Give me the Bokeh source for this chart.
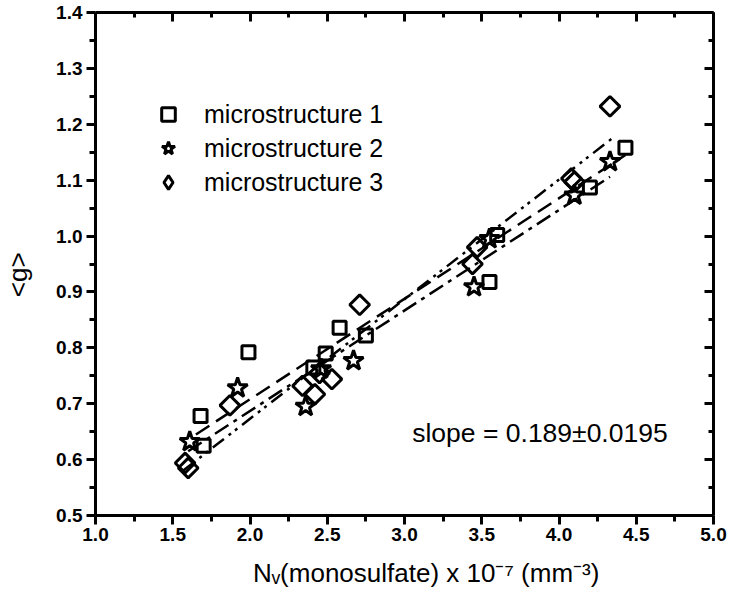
import numpy as np
from bokeh.plotting import figure
from bokeh.models import (FixedTicker, NumeralTickFormatter, LinearAxis, Legend,
                          LegendItem, Label, Range1d)
from bokeh.embed import file_html
from bokeh.resources import INLINE

# ---- data ----
ms1_x = [1.68, 1.70, 1.99, 2.41, 2.49, 2.58, 2.75, 3.55, 3.60, 4.20, 4.43]
ms1_y = [0.678, 0.625, 0.792, 0.765, 0.790, 0.836, 0.822, 0.918, 1.002, 1.087, 1.158]

ms2_x = [1.61, 1.92, 2.36, 2.46, 2.67, 3.45, 3.55, 4.10, 4.33]
ms2_y = [0.632, 0.728, 0.695, 0.762, 0.777, 0.909, 0.995, 1.073, 1.133]

ms3_x = [1.58, 1.60, 1.87, 2.34, 2.42, 2.45, 2.53, 2.71, 3.44, 3.47, 4.08, 4.10, 4.33]
ms3_y = [0.594, 0.585, 0.697, 0.732, 0.717, 0.755, 0.744, 0.877, 0.950, 0.980, 1.103, 1.097, 1.232]

# fitted lines (end points)
fit1_x = [1.65, 4.43]
fit1_y = [0.645, 1.145]
fit2_x = [1.60, 4.33]
fit2_y = [0.615, 1.106]
fit3_x = [1.57, 4.35]
fit3_y = [0.581, 1.176]

x_ticks = [1.0, 1.5, 2.0, 2.5, 3.0, 3.5, 4.0, 4.5, 5.0]
x_minor = [1.25, 1.75, 2.25, 2.75, 3.25, 3.75, 4.25, 4.75]
y_ticks = [0.5, 0.6, 0.7, 0.8, 0.9, 1.0, 1.1, 1.2, 1.3, 1.4]
y_minor = [0.55, 0.65, 0.75, 0.85, 0.95, 1.05, 1.15, 1.25, 1.35]

legend_labels = ["microstructure 1", "microstructure 2", "microstructure 3"]
slope_text = "slope = 0.189\u00b10.0195"
x_title = "N\u1d65(monosulfate) x 10\u207b\u2077 (mm\u207b\u00b3)"
y_title = "<g>"

SANS = "Liberation Sans, Arial, sans-serif"
NB = "\u00a0"

p = figure(width=732, height=606, output_backend="svg", toolbar_location=None,
           x_range=Range1d(1.0, 5.0), y_range=Range1d(0.5, 1.4),
           min_border_left=94, min_border_top=12, min_border_right=19,
           min_border_bottom=91)
p.grid.visible = False
p.outline_line_color = None
p.background_fill_color = "white"
p.border_fill_color = "white"

def style_axis(ax, labels=True, inward=False):
    ax.axis_line_width = 3
    ax.axis_line_color = "black"
    ax.major_tick_line_width = 3
    ax.minor_tick_line_width = 3
    ax.major_tick_line_color = "black"
    ax.minor_tick_line_color = "black"
    if inward:
        ax.major_tick_in = 9
        ax.major_tick_out = 0
        ax.minor_tick_in = 5
        ax.minor_tick_out = 0
    else:
        ax.major_tick_in = 0
        ax.major_tick_out = 9
        ax.minor_tick_in = 0
        ax.minor_tick_out = 6
    if labels:
        ax.major_label_text_font = SANS
        ax.major_label_text_font_style = "bold"
        ax.major_label_text_font_size = "19px"
        ax.major_label_text_color = "black"
        ax.formatter = NumeralTickFormatter(format="0.0")
    else:
        ax.major_label_text_font_size = "0px"
        ax.major_label_text_color = None
        ax.major_label_standoff = 0
        ax.axis_label_standoff = 0

p.xaxis.ticker = FixedTicker(ticks=x_ticks, minor_ticks=x_minor)
p.yaxis.ticker = FixedTicker(ticks=y_ticks, minor_ticks=y_minor)
style_axis(p.xaxis[0])
style_axis(p.yaxis[0])
p.xaxis.major_label_standoff = 3
p.yaxis.major_label_standoff = 4

p.xaxis.axis_label = NB * 6 + x_title
p.xaxis.axis_label_text_font = SANS
p.xaxis.axis_label_text_font_style = "normal"
p.xaxis.axis_label_text_font_size = "26px"
p.xaxis.axis_label_text_color = "black"
p.xaxis.axis_label_standoff = 14
p.yaxis.axis_label = y_title + NB * 3
p.yaxis.axis_label_text_font = SANS
p.yaxis.axis_label_text_font_style = "normal"
p.yaxis.axis_label_text_font_size = "26px"
p.yaxis.axis_label_text_color = "black"
p.yaxis.axis_label_standoff = 20

top = LinearAxis(ticker=FixedTicker(ticks=x_ticks, minor_ticks=x_minor))
style_axis(top, labels=False, inward=True)
p.add_layout(top, "above")
right = LinearAxis(ticker=FixedTicker(ticks=y_ticks, minor_ticks=y_minor))
style_axis(right, labels=False, inward=True)
p.add_layout(right, "right")

# fit lines
p.line(fit1_x, fit1_y, line_color="black", line_width=2.5, line_dash="16 8")
p.line(fit2_x, fit2_y, line_color="black", line_width=2.5, line_dash="16 6 4 6")
p.line(fit3_x, fit3_y, line_color="black", line_width=2.5, line_dash="14 6 3 5 3 6")

r1 = p.scatter(ms1_x, ms1_y, marker="square", size=13, fill_color="white",
               fill_alpha=0, line_color="black", line_width=3)
r2 = p.scatter(ms2_x, ms2_y, marker="star", size=21, fill_color="white",
               fill_alpha=0, line_color="black", line_width=3)
r3 = p.scatter(ms3_x, ms3_y, marker="square", size=14, angle=np.pi / 4,
               fill_color="white", fill_alpha=0, line_color="black", line_width=3)
# hidden renderer used only for the legend swatch (legend does not rotate markers)
r3_leg = p.scatter(ms3_x, ms3_y, marker="diamond", size=20, fill_color="white",
                   fill_alpha=0, line_color="black", line_width=3, visible=False)

legend = Legend(items=[LegendItem(label=legend_labels[0], renderers=[r1]),
                       LegendItem(label=legend_labels[1], renderers=[r2]),
                       LegendItem(label=legend_labels[2], renderers=[r3_leg])],
                location=(55, 316))
legend.border_line_color = None
legend.background_fill_alpha = 0
legend.inactive_fill_alpha = 0
legend.label_text_font = SANS
legend.label_text_font_size = "25px"
legend.label_text_color = "black"
legend.glyph_width = 36
legend.glyph_height = 34
legend.label_height = 32
legend.spacing = 0
legend.padding = 0
legend.margin = 0
legend.label_standoff = 18
p.add_layout(legend, "center")

p.add_layout(Label(x=3.05, y=0.62, text=slope_text, text_font=SANS,
                   text_font_size="26.5px", text_color="black"))

open("out.html", "w").write(file_html(p, INLINE))
